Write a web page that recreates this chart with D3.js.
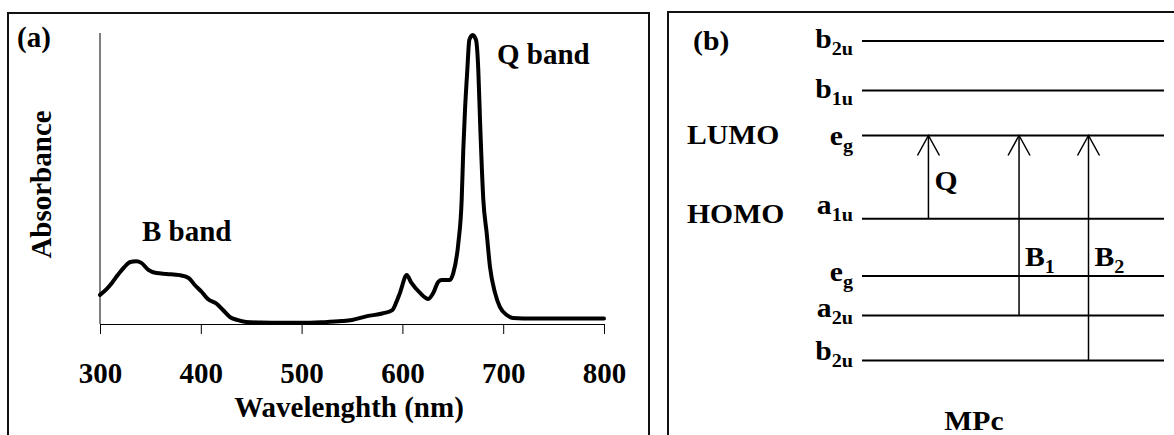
<!DOCTYPE html>
<html>
<head>
<meta charset="utf-8">
<script src="https://cdn.jsdelivr.net/npm/d3@7"></script>
<style>
  html, body { margin: 0; padding: 0; background: #fff; }
  svg { display: block; }
</style>
</head>
<body>
<svg id="chart" width="1174" height="435"></svg>
<script>
// ---- Panel (a): UV-vis absorption spectrum ----
const wavelength = [300, 306, 312, 318, 324, 330, 336, 341, 348, 356, 366, 379, 388, 394, 401, 407, 416, 422, 429, 436, 445,
  460, 480, 500, 520, 540, 550, 565, 580, 590, 594, 597.6, 604.3, 609, 617.5, 625.7, 630.7, 635.6, 639, 647, 650.5,
  655.5, 658.8, 660.4, 662.1, 664.4, 666.4, 669.7, 673, 675.3, 677, 680.3, 683.6, 686.9, 691.9, 696.8, 703.5, 709.7,
  730, 760, 800];
const absorbance = [0.100, 0.118, 0.142, 0.170, 0.195, 0.213, 0.216, 0.210, 0.186, 0.175, 0.172, 0.168, 0.158, 0.134, 0.110, 0.086, 0.069, 0.048, 0.024, 0.014, 0.007,
  0.005, 0.004, 0.004, 0.006, 0.010, 0.014, 0.027, 0.036, 0.048, 0.075, 0.107, 0.168, 0.141, 0.107, 0.086, 0.107, 0.145, 0.151, 0.151, 0.175,
  0.278, 0.426, 0.598, 0.735, 0.873, 0.976, 0.993, 0.976, 0.873, 0.701, 0.426, 0.313, 0.196, 0.107, 0.058, 0.031, 0.021,
  0.019, 0.019, 0.019];
const xTicks = [300, 400, 500, 600, 700, 800];
const bandLabels = ["B band", "Q band"];

// ---- Panel (b): molecular orbital energy levels of MPc ----
const levelNames = ["b", "b", "e", "a", "e", "a", "b"];
const levelSubs = ["2u", "1u", "g", "1u", "g", "2u", "2u"];
const levelEnergy = [8.0, 6.9, 5.9, 4.05, 2.78, 1.9, 0.9];
const frontierLevel = [2, 3];
const frontierNames = ["LUMO", "HOMO"];
const transitionNames = ["Q", "B", "B"];
const transitionSubs = ["", "1", "2"];
const transitionFrom = [3, 5, 6];
const transitionTo = [2, 2, 2];
const transitionPos = [22, 52, 75];
const transitionLabelEnergy = [4.7, 3.0, 3.0];

const svg = d3.select("#chart");
const serif = "'Liberation Serif', 'Times New Roman', serif";

// ================= Panel (a) =================
const pa = svg.append("g");
pa.append("rect").attr("x", 8).attr("y", 13).attr("width", 641).attr("height", 440)
  .attr("fill", "none").attr("stroke", "#111").attr("stroke-width", 2);

const x = d3.scaleLinear().domain([300, 800]).range([100, 604]);
const y = d3.scaleLinear().domain([0, 1]).range([324, 33]);

// axes
pa.append("line").attr("x1", x(300)).attr("x2", x(300)).attr("y1", y(0)).attr("y2", y(1))
  .attr("stroke", "#000").attr("stroke-width", 1);
const xAxis = pa.append("g").attr("transform", `translate(0,${y(0)})`)
  .call(d3.axisBottom(x).tickValues(xTicks).tickSize(10).tickSizeOuter(0).tickPadding(14).tickFormat(d3.format("d")));
xAxis.select(".domain").attr("stroke", "#000").attr("stroke-width", 1);
xAxis.selectAll(".tick line").attr("stroke", "#000").attr("stroke-width", 1);
xAxis.selectAll(".tick text").attr("font-family", serif).attr("font-weight", "bold")
  .attr("font-size", 29).attr("fill", "#000").attr("dy", null).attr("y", 59);

// spectrum
const spectrum = wavelength.map((w, i) => [w, absorbance[i]]);
pa.append("path").datum(spectrum)
  .attr("fill", "none").attr("stroke", "#000").attr("stroke-width", 4)
  .attr("stroke-linejoin", "round").attr("stroke-linecap", "round")
  .attr("d", d3.line().x(d => x(d[0])).y(d => y(d[1])).curve(d3.curveMonotoneX));

// labels
const aText = (t, px, py) => pa.append("text").attr("x", px).attr("y", py)
  .attr("font-family", serif).attr("font-weight", "bold").attr("font-size", 29).attr("fill", "#000").text(t);
aText("(a)", 17, 47);
aText(bandLabels[0], 142, 241);
aText(bandLabels[1], 497, 64);
aText("Wavelenghth (nm)", 349, 417).attr("text-anchor", "middle");
pa.append("text").attr("transform", "translate(51,184.5) rotate(-90)")
  .attr("text-anchor", "middle").attr("font-family", serif).attr("font-weight", "bold")
  .attr("font-size", 29).attr("fill", "#000").text("Absorbance");

// ================= Panel (b) =================
const pb = svg.append("g");
pb.append("rect").attr("x", 668).attr("y", 12).attr("width", 540).attr("height", 440)
  .attr("fill", "none").attr("stroke", "#111").attr("stroke-width", 2);

const yE = d3.scaleLinear().domain([0, 8]).range([401, 41]);
const xP = d3.scaleLinear().domain([0, 100]).range([862, 1164]);
const SX = 1.06;
const FS = 28;

// text with an optional subscript, slightly widened
function bText(g, px, py, main, sub, size, anchor) {
  const t = g.append("text")
    .attr("transform", `translate(${px},${py}) scale(${SX},1)`)
    .attr("text-anchor", anchor || "start")
    .attr("font-family", serif).attr("font-weight", "bold").attr("fill", "#000")
    .attr("font-size", size);
  t.append("tspan").text(main);
  if (sub) t.append("tspan").attr("font-size", size * 0.68).attr("dy", 7).text(sub);
  return t;
}

bText(pb, 693, 50, "(b)", "", FS);

// energy levels
const levels = levelEnergy.map((e, i) => ({ e, name: levelNames[i], sub: levelSubs[i] }));
pb.selectAll("line.level").data(levels).join("line").attr("class", "level")
  .attr("x1", xP(0)).attr("x2", xP(100))
  .attr("y1", d => yE(d.e)).attr("y2", d => yE(d.e))
  .attr("stroke", "#000").attr("stroke-width", 2);
const labelDy = [7, 7, 9, -5, 5, 1, -1];
levels.forEach((d, i) => bText(pb, 853, yE(d.e) + labelDy[i], d.name, d.sub, FS, "end"));

// frontier orbital tags
frontierLevel.forEach((li, k) => bText(pb, 687, yE(levelEnergy[li]) + (k === 0 ? 8 : 4), frontierNames[k], "", FS));

// transitions
transitionNames.forEach((nm, i) => {
  const tx = xP(transitionPos[i]);
  const y0 = yE(levelEnergy[transitionFrom[i]]);
  const y1 = yE(levelEnergy[transitionTo[i]]);
  pb.append("line").attr("x1", tx).attr("x2", tx).attr("y1", y0).attr("y2", y1)
    .attr("stroke", "#000").attr("stroke-width", 1.5);
  pb.append("path").attr("d", `M${tx - 11},${y1 + 20} L${tx},${y1} L${tx + 11},${y1 + 20}`)
    .attr("fill", "none").attr("stroke", "#000").attr("stroke-width", 1.5);
  bText(pb, tx + 6, yE(transitionLabelEnergy[i]), nm, transitionSubs[i], FS);
});

bText(pb, 974, 430, "MPc", "", FS, "middle");
</script>
</body>
</html>
